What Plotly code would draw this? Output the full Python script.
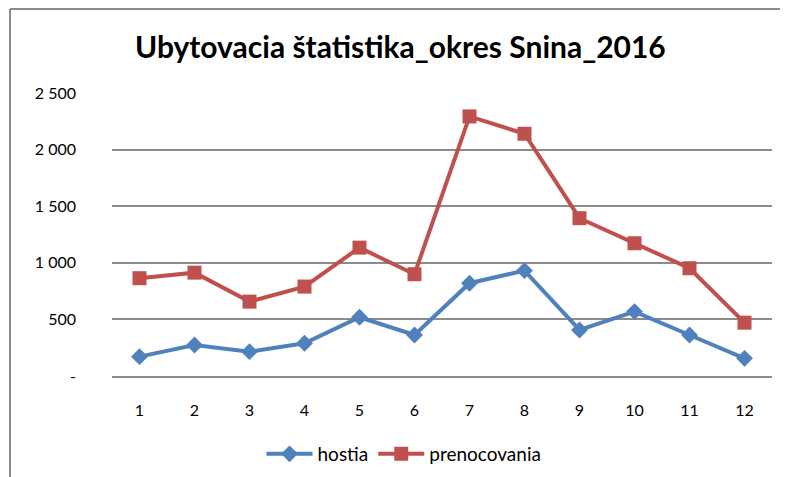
import plotly.graph_objects as go

months = [1, 2, 3, 4, 5, 6, 7, 8, 9, 10, 11, 12]
hostia = [171, 274, 215, 289, 519, 362, 820, 931, 407, 569, 362, 156]
prenocovania = [864, 913, 657, 790, 1134, 899, 2293, 2140, 1394, 1173, 952, 471]

y_tickvals = [0, 500, 1000, 1500, 2000, 2500]
y_ticktext = ["-", "500", "1 000", "1 500", "2 000", "2 500"]

BLUE = "#4F81BD"
RED = "#C0504D"
GRID = "#8C8C8C"
FONT = "Lato, Open Sans, sans-serif"

# page body has an 8px margin, so the figure is sized to fit inside it
W, H = 780, 469
L, R, T, B = 104, 16, 85, 101
PW, PH = W - L - R, H - T - B

fig = go.Figure()
fig.add_trace(go.Scatter(
    x=months, y=hostia, name="hostia", mode="lines+markers",
    line=dict(color=BLUE, width=4),
    marker=dict(symbol="diamond", size=13, color=BLUE),
))
fig.add_trace(go.Scatter(
    x=months, y=prenocovania, name="prenocovania", mode="lines+markers",
    line=dict(color=RED, width=4),
    marker=dict(symbol="square", size=14, color=RED),
))

# cropped frame: only left and top edges are visible
fx = (2 - L) / PW
fy = (PH + T - 1) / PH
fig.add_shape(type="line", xref="paper", yref="paper",
              x0=fx, x1=fx, y0=-0.5, y1=fy,
              line=dict(color=GRID, width=2))
fig.add_shape(type="line", xref="paper", yref="paper",
              x0=fx, x1=1.1, y0=fy, y1=fy,
              line=dict(color=GRID, width=2))

fig.update_layout(
    width=W, height=H,
    paper_bgcolor="white", plot_bgcolor="white",
    margin=dict(l=L, r=R, t=T, b=B, autoexpand=False),
    title=dict(text="<b>Ubytovacia štatistika_okres Snina_2016</b>",
               x=0.503, xanchor="center", y=1 - 39 / H, yanchor="middle",
               font=dict(family=FONT, size=30, color="black")),
    font=dict(family=FONT, size=16, color="black"),
    showlegend=True,
    legend=dict(orientation="h", x=(396 - L) / PW, xanchor="center",
                y=(PH + T - 446) / PH, yanchor="middle",
                font=dict(size=19), itemwidth=46),
    xaxis=dict(range=[0.5, 12.5], tickvals=months, showgrid=False, automargin=False,
               showline=True, linecolor=GRID, linewidth=1.5,
               zeroline=False, ticklabelstandoff=19),
    yaxis=dict(range=[0, 2500], tickvals=y_tickvals, ticktext=y_ticktext, automargin=False,
               gridcolor=GRID, gridwidth=1.5, zeroline=False,
               showline=False, ticklabelstandoff=35),
)

fig.write_html("out.html")
